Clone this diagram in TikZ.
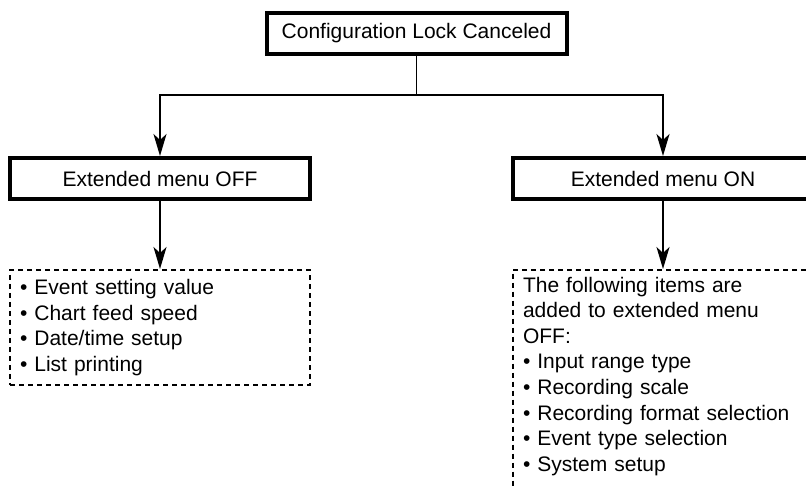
\documentclass[tikz,border=0pt]{standalone}
\usepackage{fontspec}
\setmainfont{Liberation Sans}
\usepackage{tikz}
\usetikzlibrary{arrows.meta, positioning}
\tikzstyle{arrow} = [line width=1.9pt, -{Stealth[length=22pt, width=13pt, inset=6pt]}]

\begin{document}
\begin{tikzpicture}[
  x=1pt, y=-1pt,
  node distance=68pt,
  every node/.style={font=\fontsize{21}{25.6}\selectfont, inner sep=0pt},
  menu/.style={rectangle, draw=black, line width=4pt, minimum width=300pt, minimum height=41pt, align=center},
  list/.style={rectangle, draw=black, line width=1.9pt, dash pattern=on 5pt off 4pt, text width=280pt, align=left, inner xsep=10pt, inner ysep=7pt, anchor=north},
  line/.style={line width=1.9pt}
]
\clip (0,0) rectangle (806,485);

% Nodes
\node[menu] (lock) at (416.5,33) {Configuration Lock Canceled};
\node[menu] (off) at (160,178.5) {Extended menu OFF};
\node[menu] (on) at (663,178.5) {Extended menu ON};
\node[list, below=of off, minimum height=115pt] (offlist) {\textbullet\ Event setting value\\ \textbullet\ Chart feed speed\\ \textbullet\ Date/time setup\\ \textbullet\ List printing};
\node[list, below=of on, text depth=240pt] (onlist) {The following items are\\ added to extended menu\\ OFF:\\ \textbullet\ Input range type\\ \textbullet\ Recording scale\\ \textbullet\ Recording format selection\\ \textbullet\ Event type selection\\ \textbullet\ System setup};
\coordinate (split) at (416.5,95);

% Arrows
\draw[line] (lock) -- (split);
\draw[arrow] (split) -| (off);
\draw[arrow] (split) -| (on);
\draw[arrow] (off) -- (offlist);
\draw[arrow] (on) -- (onlist);

\end{tikzpicture}
\end{document}
